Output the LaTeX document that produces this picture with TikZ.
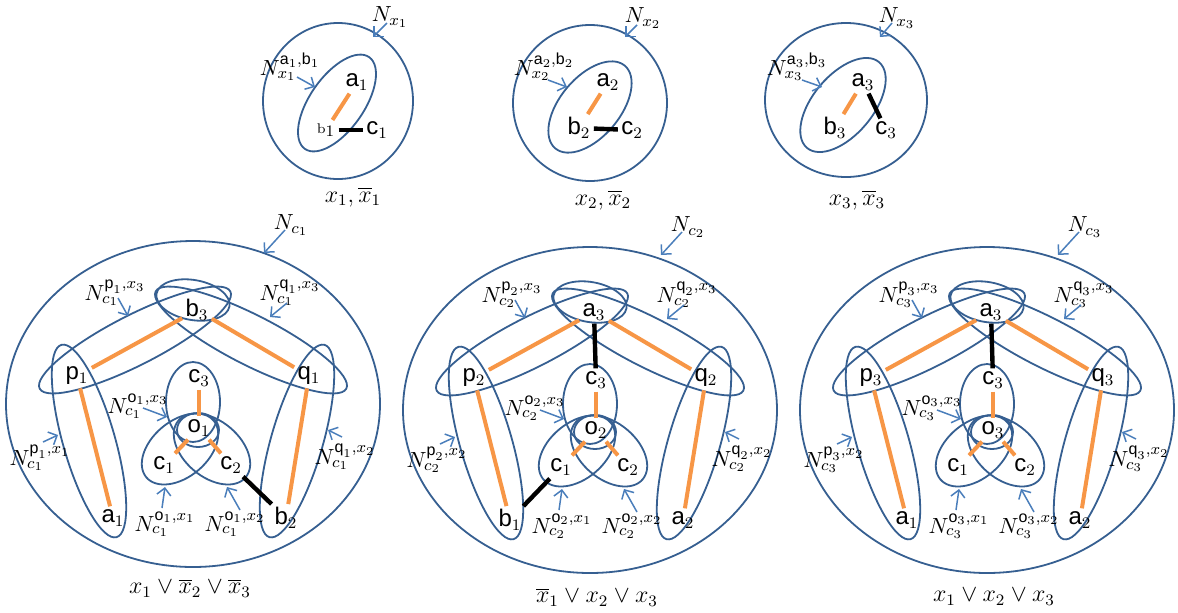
\documentclass[tikz,border=0pt]{standalone}
\usepackage{amsmath}
\usepackage{fontspec}
\setsansfont{Liberation Sans}
\usepackage{xcolor}
\usepackage{tikz}
\usetikzlibrary{shapes.geometric, arrows.meta}

\definecolor{setblue}{RGB}{54,95,145}
\definecolor{ptrblue}{RGB}{74,126,187}
\definecolor{edgeorange}{RGB}{247,150,70}
\newcommand{\sv}[1]{\textsf{#1}}

\tikzset{
	setell/.style={draw=setblue, line width=0.9pt, ellipse, inner sep=0pt},
	vtx/.style={inner sep=1.5pt, font=\fontsize{12}{13}\selectfont},
	lbl/.style={inner sep=0pt, font=\fontsize{10.95}{12}\selectfont},
	captxt/.style={inner sep=0pt, font=\fontsize{12}{13}\selectfont},
	oedge/.style={draw=edgeorange, line width=2pt},
	bedge/.style={draw=black, line width=2.2pt},
	ptr/.style={draw=ptrblue, line width=0.75pt, -{Straight Barb[length=3.5pt,width=7pt]}},
}

\begin{document}
\begin{tikzpicture}[x=0.5pt, y=-0.5pt]
	\useasboundingbox (0,0) rectangle (1178,612);
	% Variable gadgets:
	\node[setell, minimum width=75pt, minimum height=78pt] (x1-out) at (338,101) {};
	\node[setell, minimum width=56pt, minimum height=27pt, rotate=55] (x1-in) at (337,103) {};
	\node[vtx] (x1-a) at (357,82) {\sv{a}$_1$};
	\node[vtx] (x1-b) at (326,130) {{\scriptsize b}$_1$};
	\node[vtx] (x1-c) at (377,130) {\sv{c}$_1$};
	\draw[oedge] (x1-a) -- (x1-b);
	\draw[bedge] (x1-b) -- (x1-c);
	\node[lbl] (x1-n) at (390,17) {$N_{x_1}$};
	\draw[ptr] ([shift={(-3,6)}]x1-n.center) -- ++(-14,14);
	\node[lbl] (x1-nab) at (290,67) {$N^{\sv{a}_1,\sv{b}_1}_{x_1}$};
	\draw[ptr] ([shift={(7,10)}]x1-nab.center) -- ++(18,10);
	\node[captxt] (x1-cap) at (353,197) {$x_1,\overline{x}_1$};

	\node[setell, minimum width=77pt, minimum height=78pt] (x2-out) at (590,103) {};
	\node[setell, minimum width=54pt, minimum height=30pt, rotate=50] (x2-in) at (590,107) {};
	\node[vtx] (x2-a) at (608,82) {\sv{a}$_2$};
	\node[vtx] (x2-b) at (579,128) {\sv{b}$_2$};
	\node[vtx] (x2-c) at (632,130) {\sv{c}$_2$};
	\draw[oedge] (x2-a) -- (x2-b);
	\draw[bedge] (x2-b) -- (x2-c);
	\node[lbl] (x2-n) at (643,18) {$N_{x_2}$};
	\draw[ptr] ([shift={(-6,7)}]x2-n.center) -- ++(-12,12);
	\node[lbl] (x2-nab) at (544,67) {$N^{\sv{a}_2,\sv{b}_2}_{x_2}$};
	\draw[ptr] ([shift={(4,13)}]x2-nab.center) -- ++(19,7);
	\node[captxt] (x2-cap) at (603,200) {$x_2,\overline{x}_2$};

	\node[setell, minimum width=81pt, minimum height=77pt] (x3-out) at (846,100) {};
	\node[setell, minimum width=56pt, minimum height=30pt, rotate=50] (x3-in) at (843,105) {};
	\node[vtx] (x3-a) at (863,82) {\sv{a}$_3$};
	\node[vtx] (x3-b) at (835,128) {\sv{b}$_3$};
	\node[vtx] (x3-c) at (886,130) {\sv{c}$_3$};
	\draw[oedge] (x3-a) -- (x3-b);
	\draw[bedge] (x3-a) -- (x3-c);
	\node[lbl] (x3-n) at (897,18) {$N_{x_3}$};
	\draw[ptr] ([shift={(-5,5)}]x3-n.center) -- ++(-12,14);
	\node[lbl] (x3-nab) at (797,67) {$N^{\sv{a}_3,\sv{b}_3}_{x_3}$};
	\draw[ptr] ([shift={(5,13)}]x3-nab.center) -- ++(20,7);
	\node[captxt] (x3-cap) at (857,200) {$x_3,\overline{x}_3$};

	% Clause gadgets:
	\foreach \k/\dx/\dy/\oy/\vt/\vl/\vr/\sx/\cx/\cy/\ctext in {
		1/0/0/404/{\sv{b}$_3$}/{\sv{a}$_1$}/{\sv{b}$_2$}/1/190/588/{x_1\vee\overline{x}_2\vee\overline{x}_3},
		2/397/2/408/{\sv{a}$_3$}/{\sv{b}$_1$}/{\sv{a}$_2$}/2/200/595/{\overline{x}_1\vee x_2\vee x_3},
		3/794/2/408/{\sv{a}$_3$}/{\sv{a}$_1$}/{\sv{a}$_2$}/2/200/595/{x_1\vee x_2\vee x_3}}{
	\begin{scope}[shift={(\dx,\dy)}]
		\node[setell, minimum width=187pt, minimum height=163pt] (g\k-out) at (193,\oy) {};
		\node[setell, minimum width=107pt, minimum height=25pt, rotate=27] (g\k-sp) at (135,340) {};
		\node[setell, minimum width=107pt, minimum height=25pt, rotate=-27] (g\k-sq) at (251,340) {};
		\node[setell, minimum width=37pt, minimum height=20pt, rotate=-10] (g\k-st) at (193,300) {};
		\node[setell, minimum width=100pt, minimum height=26pt, rotate=106] (g\k-sl) at (89,441) {};
		\node[setell, minimum width=100pt, minimum height=26pt, rotate=74] (g\k-sr) at (297,441) {};
		\node[setell, minimum width=27pt, minimum height=40pt] (g\k-s3) at (193,402) {};
		\node[setell, minimum width=21pt, minimum height=17pt] (g\k-so) at (198,430) {};
		\node[setell, minimum width=44pt, minimum height=28pt, rotate=40] (g\k-s1) at (180,449) {};
		\node[setell, minimum width=44pt, minimum height=28pt, rotate=-40] (g\k-s2) at (212,449) {};
		% vertices
		\node[vtx] (g\k-t) at (197,310) {\vt};
		\node[vtx] (g\k-p) at (77,376) {\sv{p}$_{\k}$};
		\node[vtx] (g\k-q) at (309,376) {\sv{q}$_{\k}$};
		\node[vtx] (g\k-l) at (113,518) {\vl};
		\node[vtx] (g\k-r) at (286,518) {\vr};
		\node[vtx] (g\k-c3) at (199,378) {\sv{c}$_3$};
		\node[vtx] (g\k-o) at (199,428) {\sv{o}$_{\k}$};
		\node[vtx] (g\k-c1) at (164,465) {\sv{c}$_1$};
		\node[vtx] (g\k-c2) at (231,465) {\sv{c}$_2$};
		\draw[oedge] (g\k-p) -- (g\k-t);
		\draw[oedge] (g\k-t) -- (g\k-q);
		\draw[oedge] (g\k-p) -- (g\k-l);
		\draw[oedge] (g\k-q) -- (g\k-r);
		\draw[oedge] (g\k-c3) -- (g\k-o);
		\draw[oedge] (g\k-o) -- (g\k-c1);
		\draw[oedge] (g\k-o) -- (g\k-c2);
		% labels
		\node[lbl] (g\k-nc) at (291,225) {$N_{c_{\k}}$};
		\draw[ptr] ([shift={(-6,5)}]g\k-nc.center) -- ++(-21,23);
		\node[lbl] (g\k-np3) at (115,293) {$N^{\sv{p}_{\k},x_3}_{c_{\k}}$};
		\draw[ptr] ([shift={(3,5)}]g\k-np3.center) -- ++(10,18);
		\node[lbl] (g\k-nq3) at (290,293) {$N^{\sv{q}_{\k},x_3}_{c_{\k}}$};
		\draw[ptr] ([shift={(-3,10)}]g\k-nq3.center) -- ++(-17,14);
		\node[lbl] (g\k-no3) at (138,406) {$N^{\sv{o}_{\k},x_3}_{c_{\k}}$};
		\draw[ptr] ([shift={(5,2)}]g\k-no3.center) -- ++(24,9);
		\node[lbl] (g\k-npl) at (40,458) {$N^{\sv{p}_{\k},x_{\sx}}_{c_{\k}}$};
		\draw[ptr] ([shift={(3,-16)}]g\k-npl.center) -- ++(15,-7);
		\node[lbl] (g\k-nqr) at (345,457) {$N^{\sv{q}_{\k},x_2}_{c_{\k}}$};
		\draw[ptr] ([shift={(-3,-20)}]g\k-nqr.center) -- ++(-14,-7);
		\node[lbl] (g\k-no1) at (165,524) {$N^{\sv{o}_{\k},x_1}_{c_{\k}}$};
		\draw[ptr] ([shift={(-3,-16)}]g\k-no1.center) -- ++(3,-21);
		\node[lbl] (g\k-no2) at (235,524) {$N^{\sv{o}_{\k},x_2}_{c_{\k}}$};
		\draw[ptr] ([shift={(5,-14)}]g\k-no2.center) -- ++(-13,-23);
		\node[captxt] (g\k-cap) at (\cx,\cy) {$\ctext$};
	\end{scope}
	}
	% Black edges of the clause gadgets
	\draw[bedge] (g1-c2) -- (g1-r);
	\draw[bedge] (g2-t) -- (g2-c3);
	\draw[bedge] (g2-c1) -- (g2-l);
	\draw[bedge] (g3-t) -- (g3-c3);
\end{tikzpicture}
\end{document}
